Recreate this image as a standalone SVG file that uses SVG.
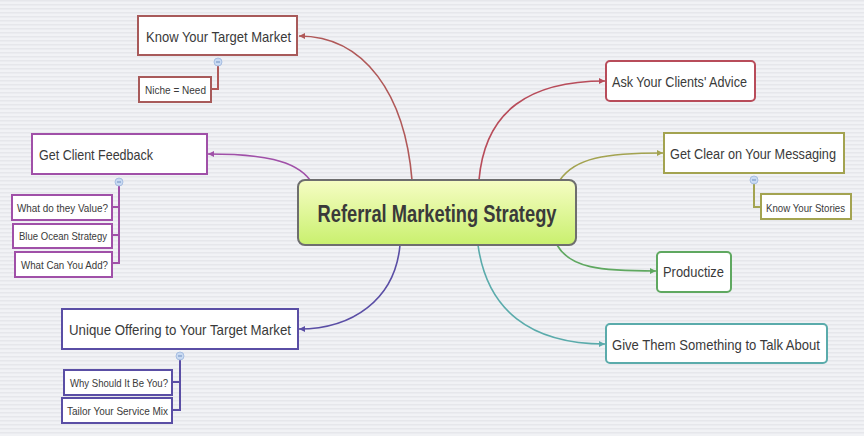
<svg xmlns="http://www.w3.org/2000/svg" width="864" height="436" viewBox="0 0 864 436">
<defs>
<pattern id="bg" width="4" height="4" patternUnits="userSpaceOnUse">
<rect width="4" height="4" fill="#f1f2f5"/>
<rect y="0" width="4" height="1.5" fill="#e6e7eb"/>
</pattern>
<linearGradient id="cg" x1="0" y1="0" x2="0" y2="1">
<stop offset="0" stop-color="#f6fdc4"/>
<stop offset="1" stop-color="#c9f06e"/>
</linearGradient>
<marker id="aR" markerWidth="7" markerHeight="7" refX="6" refY="3.5" orient="auto" markerUnits="userSpaceOnUse"><path d="M0,0.5 L6,3.5 L0,6.5 Z" fill="#b05858"/></marker>
<marker id="aR2" markerWidth="7" markerHeight="7" refX="6" refY="3.5" orient="auto" markerUnits="userSpaceOnUse"><path d="M0,0.5 L6,3.5 L0,6.5 Z" fill="#b84c5a"/></marker>
<marker id="aO" markerWidth="7" markerHeight="7" refX="6" refY="3.5" orient="auto" markerUnits="userSpaceOnUse"><path d="M0,0.5 L6,3.5 L0,6.5 Z" fill="#a3a350"/></marker>
<marker id="aG" markerWidth="7" markerHeight="7" refX="6" refY="3.5" orient="auto" markerUnits="userSpaceOnUse"><path d="M0,0.5 L6,3.5 L0,6.5 Z" fill="#5fa860"/></marker>
<marker id="aT" markerWidth="7" markerHeight="7" refX="6" refY="3.5" orient="auto" markerUnits="userSpaceOnUse"><path d="M0,0.5 L6,3.5 L0,6.5 Z" fill="#5aabab"/></marker>
<marker id="aP" markerWidth="7" markerHeight="7" refX="6" refY="3.5" orient="auto" markerUnits="userSpaceOnUse"><path d="M0,0.5 L6,3.5 L0,6.5 Z" fill="#a050a8"/></marker>
<marker id="aI" markerWidth="7" markerHeight="7" refX="6" refY="3.5" orient="auto" markerUnits="userSpaceOnUse"><path d="M0,0.5 L6,3.5 L0,6.5 Z" fill="#5a4ea5"/></marker>
</defs>
<style>
.t{font-family:"Liberation Sans",Arial,sans-serif;fill:#3a3a3a}
.m{font-size:15px}
.s{font-size:11.5px}
.box{fill:#ffffff;stroke-width:2}
.sub{fill:#ffffff;stroke-width:2}
.c{fill:none;stroke-width:1.6}
.tree{fill:none;stroke-width:2}
.dot{fill:#c9daf2;stroke:#9db6dd;stroke-width:0.8}
.minus{stroke:#6f8fc0;stroke-width:1}
</style>
<rect width="864" height="436" fill="url(#bg)"/>

<g id="connectors">
<path class="c" d="M412,180 C405,95 365,36 299,36" stroke="#b05858" marker-end="url(#aR)"/>
<path class="c" d="M479,180 C485,110 530,81 605,81" stroke="#b84c5a" marker-end="url(#aR2)"/>
<path class="c" d="M560,180 C575,158 605,153 663,153" stroke="#a3a350" marker-end="url(#aO)"/>
<path class="c" d="M557,245 C570,268 600,271 656,271" stroke="#5fa860" marker-end="url(#aG)"/>
<path class="c" d="M478,245 C487,310 530,344 605,344" stroke="#5aabab" marker-end="url(#aT)"/>
<path class="c" d="M310,180 C295,160 262,154 208,154" stroke="#a050a8" marker-end="url(#aP)"/>
<path class="c" d="M400,245 C395,300 352,329 299,329" stroke="#5a4ea5" marker-end="url(#aI)"/>
<path class="tree" d="M218,62 V89 H211" stroke="#b05858"/>
<path class="tree" d="M754,180 V207 H761" stroke="#a3a350"/>
<path class="tree" d="M119,182 V263 H112 M119,207 H112 M119,235 H112" stroke="#a050a8"/>
<path class="tree" d="M180,356 V410 H172 M180,382 H172" stroke="#5a4ea5"/>
</g>

<g id="center">
<rect x="298" y="180" width="278" height="65" rx="7" fill="url(#cg)" stroke="#6e6e6e" stroke-width="2"/>
<text class="t" x="437" y="222" text-anchor="middle" font-size="23" font-weight="bold" fill="#3a3a3a" textLength="239" lengthAdjust="spacingAndGlyphs">Referral Marketing Strategy</text>
</g>

<g id="know-your-target-market">
<rect class="box" x="138" y="16" width="159" height="39" stroke="#a85a5a"/>
<text class="t m" x="146" y="42" textLength="145" lengthAdjust="spacingAndGlyphs">Know Your Target Market</text>
<circle class="dot" cx="218" cy="62" r="4"/>
<line class="minus" x1="216" y1="62" x2="220" y2="62"/>
</g>
<g id="niche-need">
<rect class="sub" x="139" y="77" width="72" height="25" stroke="#a85a5a"/>
<text class="t s" x="145" y="94" textLength="61" lengthAdjust="spacingAndGlyphs">Niche = Need</text>
</g>

<g id="ask-your-clients-advice">
<rect class="box" x="606" y="61" width="149" height="40" rx="4" stroke="#b84c5a"/>
<text class="t m" x="612" y="87" textLength="135" lengthAdjust="spacingAndGlyphs">Ask Your Clients' Advice</text>
</g>

<g id="get-clear-messaging">
<rect class="box" x="664" y="133" width="180" height="40" stroke="#a3a350"/>
<text class="t" font-size="14" x="670" y="159" textLength="166" lengthAdjust="spacingAndGlyphs">Get Clear on Your Messaging</text>
<circle class="dot" cx="754" cy="180" r="4"/>
<line class="minus" x1="752" y1="180" x2="756" y2="180"/>
</g>
<g id="know-your-stories">
<rect class="sub" x="761" y="194" width="90" height="25" stroke="#a3a350"/>
<text class="t s" x="766" y="212" textLength="79" lengthAdjust="spacingAndGlyphs">Know Your Stories</text>
</g>

<g id="productize">
<rect class="box" x="657" y="252" width="74" height="40" rx="4" stroke="#5fa860"/>
<text class="t m" x="663" y="277" textLength="61" lengthAdjust="spacingAndGlyphs">Productize</text>
</g>

<g id="give-them-something">
<rect class="box" x="606" y="324" width="221" height="39" rx="4" stroke="#5aabab"/>
<text class="t m" x="612" y="350" textLength="208" lengthAdjust="spacingAndGlyphs">Give Them Something to Talk About</text>
</g>

<g id="get-client-feedback">
<rect class="box" x="32" y="134" width="175" height="40" stroke="#a050a8"/>
<text class="t m" x="39" y="160" textLength="114" lengthAdjust="spacingAndGlyphs">Get Client Feedback</text>
<circle class="dot" cx="119" cy="182" r="4"/>
<line class="minus" x1="117" y1="182" x2="121" y2="182"/>
</g>
<g id="what-do-they-value">
<rect class="sub" x="12" y="195" width="100" height="25" stroke="#a050a8"/>
<text class="t s" x="17" y="212" textLength="91" lengthAdjust="spacingAndGlyphs">What do they Value?</text>
</g>
<g id="blue-ocean-strategy">
<rect class="sub" x="13" y="224" width="99" height="24" stroke="#a050a8"/>
<text class="t s" x="19" y="240" textLength="88" lengthAdjust="spacingAndGlyphs">Blue Ocean Strategy</text>
</g>
<g id="what-can-you-add">
<rect class="sub" x="15" y="252" width="97" height="25" stroke="#a050a8"/>
<text class="t s" x="21" y="269" textLength="87" lengthAdjust="spacingAndGlyphs">What Can You Add?</text>
</g>

<g id="unique-offering">
<rect class="box" x="62" y="309" width="236" height="40" stroke="#5a4ea5"/>
<text class="t m" x="69" y="335" textLength="222" lengthAdjust="spacingAndGlyphs">Unique Offering to Your Target Market</text>
<circle class="dot" cx="180" cy="356" r="4"/>
<line class="minus" x1="178" y1="356" x2="182" y2="356"/>
</g>
<g id="why-should-it-be-you">
<rect class="sub" x="64" y="370" width="108" height="25" stroke="#5a4ea5"/>
<text class="t s" x="70" y="387" textLength="98" lengthAdjust="spacingAndGlyphs">Why Should It Be You?</text>
</g>
<g id="tailor-service-mix">
<rect class="sub" x="62" y="398" width="110" height="25" stroke="#5a4ea5"/>
<text class="t s" x="67" y="415" textLength="101" lengthAdjust="spacingAndGlyphs">Tailor Your Service Mix</text>
</g>
</svg>
